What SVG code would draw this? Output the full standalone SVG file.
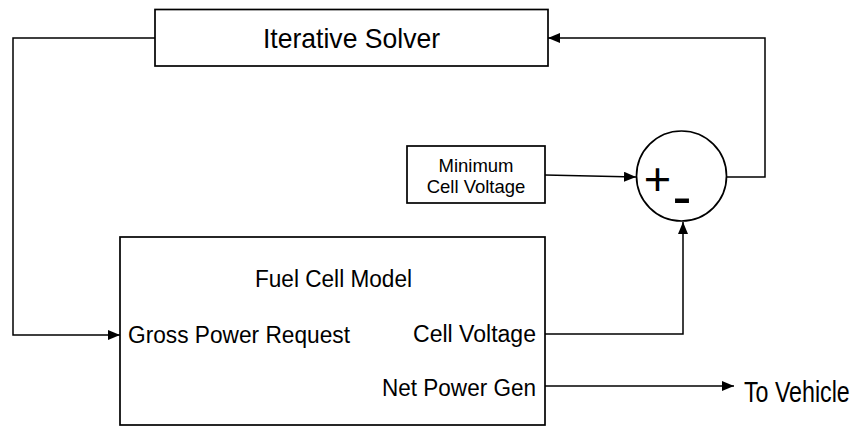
<svg xmlns="http://www.w3.org/2000/svg" width="865" height="432" viewBox="0 0 865 432">
<defs>
<marker id="arr" viewBox="0 0 12 10" refX="12" refY="5" markerWidth="12" markerHeight="10" markerUnits="userSpaceOnUse" orient="auto">
<path d="M0,0 L12,5 L0,10 Z" fill="#000"/>
</marker>
<style>
.box{fill:#fff;stroke:#000;stroke-width:1.7}
.ln{fill:none;stroke:#000;stroke-width:1.5;marker-end:url(#arr)}
.t{font-family:"Liberation Sans",Arial,sans-serif;fill:#000}
</style>
</defs>
<rect width="865" height="432" fill="#fff"/>
<g id="connectors">
<path class="ln" d="M155,38 H13 V335 H120"/>
<path class="ln" d="M727,177 H765 V38 H548"/>
<path class="ln" d="M545,175 L636,177"/>
<path class="ln" d="M545,334 H683 V222"/>
<path class="ln" d="M545,386 H734"/>
</g>
<g id="solver">
<rect class="box" x="155" y="9.5" width="393" height="56.5"/>
<text class="t" x="263" y="48" font-size="28" textLength="177" lengthAdjust="spacingAndGlyphs">Iterative Solver</text>
</g>
<g id="minimum">
<rect class="box" x="407" y="146" width="138" height="57"/>
<text class="t" x="476" y="172" font-size="18.5" text-anchor="middle">Minimum</text>
<text class="t" x="476" y="193" font-size="18.5" text-anchor="middle">Cell Voltage</text>
</g>
<g id="sum">
<circle class="box" cx="681.5" cy="176" r="45"/>
<text class="t" x="657.5" y="194.5" font-size="47" text-anchor="middle">+</text>
<text class="t" x="682" y="216" font-size="57" text-anchor="middle">-</text>
</g>
<g id="fuelcell">
<rect class="box" x="120" y="237" width="425" height="188"/>
<text class="t" x="255" y="287" font-size="23" textLength="157" lengthAdjust="spacingAndGlyphs">Fuel Cell Model</text>
<text class="t" x="128" y="343" font-size="23" textLength="222" lengthAdjust="spacingAndGlyphs">Gross Power Request</text>
<text class="t" x="413" y="342" font-size="23" textLength="123" lengthAdjust="spacingAndGlyphs">Cell Voltage</text>
<text class="t" x="382" y="396" font-size="23" textLength="154" lengthAdjust="spacingAndGlyphs">Net Power Gen</text>
</g>
<g id="vehicle">
<text class="t" transform="translate(744,402) scale(0.8,1)" x="0" y="0" font-size="29">To Vehicle</text>
</g>
</svg>
